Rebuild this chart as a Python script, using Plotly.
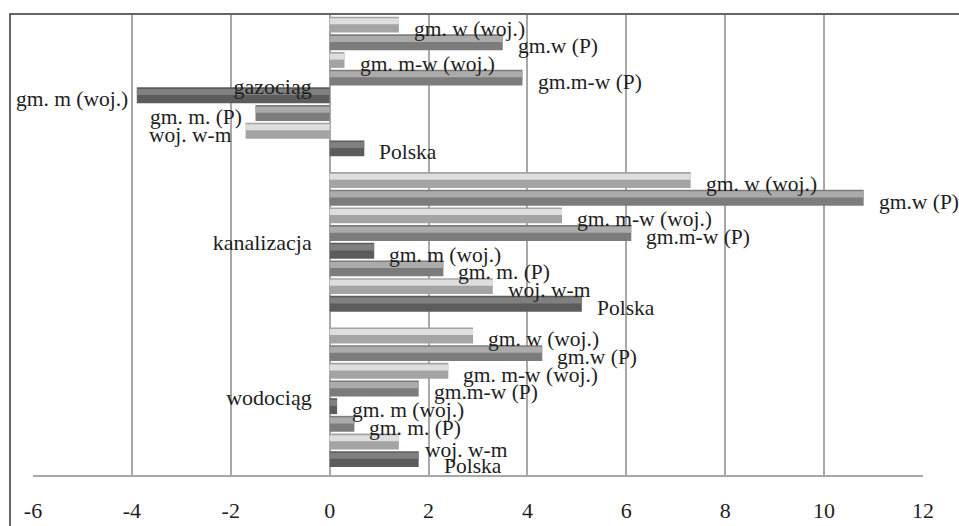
import plotly.graph_objects as go

# Categories (top to bottom) and the eight compared groups
categories = ["gazociąg", "kanalizacja", "wodociąg"]
series_names = ["gm. w (woj.)", "gm.w (P)", "gm. m-w (woj.)", "gm.m-w (P)",
                "gm. m (woj.)", "gm. m. (P)", "woj. w-m", "Polska"]

# Values per group, in the order of `categories`
gm_w_woj = [1.4, 7.3, 2.9]
gm_w_p = [3.5, 10.8, 4.3]
gm_mw_woj = [0.3, 4.7, 2.4]
gm_mw_p = [3.9, 6.1, 1.8]
gm_m_woj = [-3.9, 0.9, 0.15]
gm_m_p = [-1.5, 2.3, 0.5]
woj_wm = [-1.7, 3.3, 1.4]
polska = [0.7, 5.1, 1.8]

series_values = [gm_w_woj, gm_w_p, gm_mw_woj, gm_mw_p,
                 gm_m_woj, gm_m_p, woj_wm, polska]

x_ticks = [-6, -4, -2, 0, 2, 4, 6, 8, 10, 12]

# Shading per series: (body colour, highlight colour)
LIGHT = ("#a4a4a4", "#dedede")
MEDIUM = ("#7c7c7c", "#ababab")
DARK = ("#5c5c5c", "#808080")
styles = [LIGHT, MEDIUM, LIGHT, MEDIUM, DARK, MEDIUM, LIGHT, DARK]

FONT = "Liberation Serif"
TEXT = "#1e1e1e"
FS = 22          # axis text
FS_LABEL = 21.5  # bar labels

BARGAP = 0.09        # gap between category groups (in category units)
INNER_GAP = 0.10     # gap between bars inside a group (fraction of slot)
n = len(series_names)
group_w = 1 - BARGAP
slot = group_w / n
bar_w = slot * (1 - INNER_GAP)

fig = go.Figure()

for i, (name, vals, (body, hi)) in enumerate(zip(series_names, series_values, styles)):
    off = -group_w / 2 + i * slot + slot * INNER_GAP / 2
    # bar body
    fig.add_trace(go.Bar(
        y=categories, x=vals, orientation="h", name=name,
        offset=off, width=bar_w,
        marker=dict(color=body, line=dict(width=0)),
        showlegend=False, hoverinfo="x+name",
    ))
    # upper highlight strip giving the bevelled look
    fig.add_trace(go.Bar(
        y=categories, x=vals, orientation="h", name=name,
        offset=off + bar_w * 0.1, width=bar_w * 0.38,
        marker=dict(color=hi, line=dict(width=0)),
        showlegend=False, hoverinfo="skip",
    ))

# Series-name labels next to each bar end
extra = {("wodociąg", "woj. w-m"): (11, -5), ("wodociąg", "Polska"): (10, -3),
         ("gazociąg", "gm. m (woj.)"): (5, 0)}
annotations = []
for i, (name, vals) in enumerate(zip(series_names, series_values)):
    center = -group_w / 2 + (i + 0.5) * slot
    for c, (cat, v) in enumerate(zip(categories, vals)):
        dx, dy = extra.get((cat, name), (0, 0))
        pos = v >= 0
        annotations.append(dict(
            x=v, y=c + center, xref="x", yref="y",
            text=name, showarrow=False,
            xanchor="left" if pos else "right",
            xshift=(13 if pos else -12) + dx, yshift=-4 + dy,
            font=dict(family=FONT, size=FS_LABEL, color=TEXT),
        ))

# Outer chart frame: only its left and top edges fall inside the canvas
W, H, L, R, T, B = 959, 526, 33, 36, 15, 51
pw, ph = W - L - R, H - T - B
shapes = [
    dict(type="rect", xref="paper", yref="paper",
         x0=(10 - L) / pw, x1=(W + 20 - L) / pw,
         y0=-(B + 20) / ph, y1=1 + (T - 14) / ph,
         line=dict(color="#333333", width=1.5), fillcolor="rgba(0,0,0,0)",
         layer="above"),
]

fig.update_layout(
    width=W, height=H,
    margin=dict(l=L, r=R, t=T, b=B, autoexpand=False),
    paper_bgcolor="white", plot_bgcolor="white",
    barmode="overlay",
    annotations=annotations, shapes=shapes,
    font=dict(family=FONT, size=FS, color=TEXT),
    xaxis=dict(
        range=[-6, 12], tickvals=x_ticks, ticktext=[str(t) for t in x_ticks],
        showgrid=True, gridcolor="#a8a8a8", gridwidth=1.5,
        zeroline=True, zerolinecolor="#a8a8a8", zerolinewidth=1.5,
        showline=True, linecolor="#a8a8a8", linewidth=1.5, mirror=False,
        ticks="", ticklabelstandoff=15, automargin=False,
        tickfont=dict(family=FONT, size=FS, color=TEXT),
    ),
    yaxis=dict(
        type="category", categoryorder="array", categoryarray=categories,
        range=[2.5, -0.46], anchor="free", position=1 / 3,
        showgrid=False, zeroline=False, showline=False, automargin=False,
        ticks="", ticklabelstandoff=18,
        tickfont=dict(family=FONT, size=FS, color=TEXT),
    ),
)

fig.write_html("out.html")
